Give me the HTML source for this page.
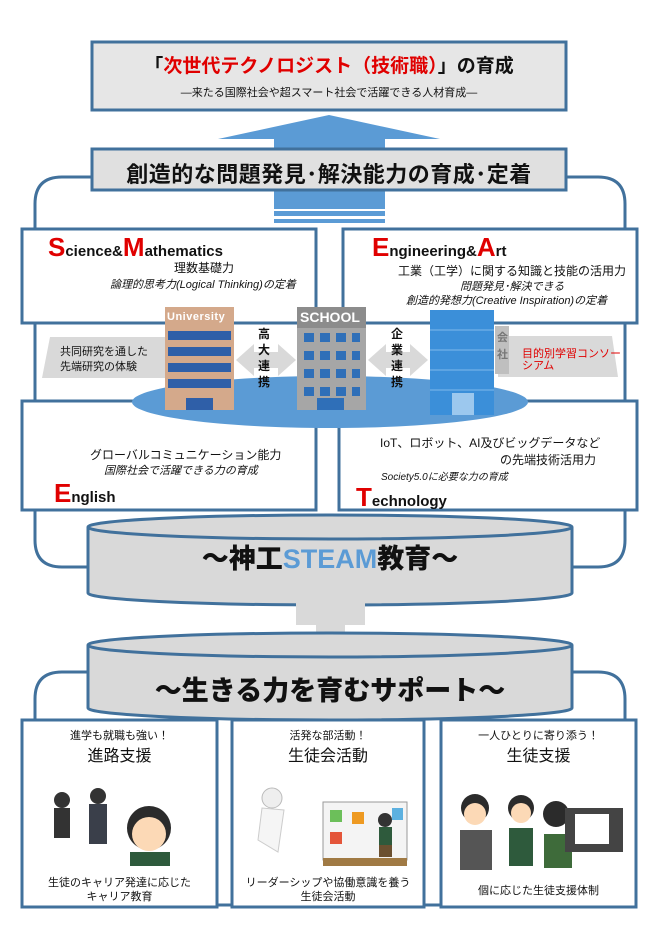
<!DOCTYPE html>
<html><head><meta charset="utf-8"><style>
body{margin:0;width:660px;height:934px;background:#fff;position:relative;overflow:hidden;font-family:"Liberation Sans","Noto Sans CJK JP",sans-serif;color:#111}
.a{position:absolute;white-space:nowrap}
svg{position:absolute;left:0;top:0}
.big{font-weight:bold;font-family:"Liberation Sans","Noto Sans CJK JP",sans-serif}
.cap{color:#e00000;font-size:26px;font-weight:900}
</style></head><body>
<svg width="660" height="934">
<path d="M92 177 H62 Q35 177 35 204 V540 Q35 567 62 567 H100" fill="none" stroke="#41719c" stroke-width="3"/>
<path d="M566 177 H598 Q625 177 625 204 V540 Q625 567 598 567 H560" fill="none" stroke="#41719c" stroke-width="3"/>
<path d="M100 672 H62 Q35 672 35 699 V905 H625 V699 Q625 672 598 672 H560" fill="none" stroke="#41719c" stroke-width="3"/>
<rect x="92" y="42" width="474" height="68" fill="#e6e6e6" stroke="#41719c" stroke-width="3"/>
<polygon points="329,115 440,139 218,139" fill="#5b9bd5"/>
<rect x="274" y="139" width="111" height="70" fill="#5b9bd5"/>
<rect x="274" y="211" width="111" height="5" fill="#5b9bd5"/>
<rect x="274" y="219" width="111" height="4" fill="#5b9bd5"/>
<rect x="92" y="149" width="474" height="41" fill="#e0e0e0" stroke="#41719c" stroke-width="3"/>
<rect x="22" y="229" width="294" height="94" fill="#fff" stroke="#41719c" stroke-width="3"/>
<rect x="343" y="229" width="294" height="94" fill="#fff" stroke="#41719c" stroke-width="3"/>
<rect x="22" y="401" width="294" height="109" fill="#fff" stroke="#41719c" stroke-width="3"/>
<rect x="339" y="401" width="298" height="109" fill="#fff" stroke="#41719c" stroke-width="3"/>
<polygon points="50,337 170,337 170,378 42,378" fill="#d9d9d9"/>
<polygon points="498,336 612,336 618,377 498,377" fill="#d9d9d9"/>
<polygon points="236,360 254,344 254,352 278,352 278,344 296,360 278,376 278,368 254,368 254,376" fill="#d9d9d9"/>
<polygon points="368,360 386,344 386,352 410,352 410,344 428,360 410,376 410,368 386,368 386,376" fill="#d9d9d9"/>
<ellipse cx="330" cy="402" rx="198" ry="26" fill="#5b9bd5"/>
<rect x="165" y="307" width="69" height="103" fill="#d4a98b"/>
<g fill="#2f5fa8"><rect x="168" y="331" width="63" height="9"/><rect x="168" y="347" width="63" height="9"/><rect x="168" y="363" width="63" height="9"/><rect x="168" y="379" width="63" height="9"/><rect x="186" y="398" width="27" height="12"/></g>
<rect x="297" y="307" width="69" height="103" fill="#a6a6a6"/>
<rect x="297" y="307" width="69" height="21" fill="#8c8c8c"/>
<g fill="#2f6fb8"><rect x="304" y="333" width="10" height="9"/><rect x="320" y="333" width="10" height="9"/><rect x="336" y="333" width="10" height="9"/><rect x="352" y="333" width="8" height="9"/>
<rect x="304" y="351" width="10" height="9"/><rect x="320" y="351" width="10" height="9"/><rect x="336" y="351" width="10" height="9"/><rect x="352" y="351" width="8" height="9"/>
<rect x="304" y="369" width="10" height="9"/><rect x="320" y="369" width="10" height="9"/><rect x="336" y="369" width="10" height="9"/><rect x="352" y="369" width="8" height="9"/>
<rect x="304" y="387" width="10" height="9"/><rect x="320" y="387" width="10" height="9"/><rect x="336" y="387" width="10" height="9"/><rect x="352" y="387" width="8" height="9"/><rect x="317" y="398" width="27" height="12"/></g>
<rect x="430" y="310" width="64" height="105" fill="#3b8fd9"/>
<g stroke="#7fb8ea" stroke-width="1"><line x1="430" y1="330" x2="494" y2="330"/><line x1="430" y1="350" x2="494" y2="350"/><line x1="430" y1="370" x2="494" y2="370"/><line x1="430" y1="390" x2="494" y2="390"/></g>
<rect x="495" y="326" width="14" height="48" fill="#bfbfbf"/>
<rect x="452" y="393" width="22" height="22" fill="#9cc8ee"/>
<path d="M88 527 V593 A242 12 0 0 0 572 593 V527" fill="#d9d9d9" stroke="#41719c" stroke-width="3"/>
<ellipse cx="330" cy="527" rx="242" ry="12" fill="#d9d9d9" stroke="#41719c" stroke-width="3"/>
<path d="M88 645 V708 A242 12 0 0 0 572 708 V645" fill="#d9d9d9" stroke="#41719c" stroke-width="3"/>
<rect x="316" y="588" width="29" height="62" fill="#d9d9d9"/>
<rect x="296" y="598" width="69" height="27" fill="#d9d9d9"/>
<ellipse cx="330" cy="645" rx="242" ry="12" fill="#d9d9d9" stroke="#41719c" stroke-width="3"/>
<rect x="22" y="720" width="195" height="187" fill="#fff" stroke="#41719c" stroke-width="3"/>
<rect x="232" y="720" width="192" height="187" fill="#fff" stroke="#41719c" stroke-width="3"/>
<rect x="441" y="720" width="195" height="187" fill="#fff" stroke="#41719c" stroke-width="3"/>
<g>
<circle cx="62" cy="800" r="8" fill="#333"/><rect x="54" y="808" width="16" height="30" fill="#333"/>
<circle cx="98" cy="796" r="8" fill="#333"/><rect x="89" y="804" width="18" height="40" fill="#3a3f4a"/>
<circle cx="149" cy="828" r="22" fill="#2b2b2b"/><circle cx="149" cy="834" r="17" fill="#fcd9b6"/><rect x="130" y="852" width="40" height="14" fill="#2e5a3c"/>
</g>
<g>
<rect x="323" y="802" width="84" height="58" fill="#f4f4f4" stroke="#999"/>
<rect x="330" y="810" width="12" height="12" fill="#6cbf5a"/><rect x="352" y="812" width="12" height="12" fill="#ee9a22"/><rect x="330" y="832" width="12" height="12" fill="#e4553a"/><rect x="392" y="808" width="11" height="12" fill="#5db1e0"/>
<rect x="323" y="858" width="84" height="8" fill="#a07a44"/>
<circle cx="385" cy="820" r="7" fill="#333"/><rect x="379" y="827" width="13" height="18" fill="#2e5a3c"/><rect x="379" y="845" width="13" height="12" fill="#6b5030"/>
<circle cx="272" cy="798" r="10" fill="#eee" stroke="#bbb"/><path d="M262 808 L258 840 L278 852 L284 810Z" fill="#f5f5f5" stroke="#ccc"/>
</g>
<g>
<circle cx="475" cy="808" r="14" fill="#2b2b2b"/><circle cx="475" cy="814" r="11" fill="#fcd9b6"/><rect x="460" y="830" width="32" height="40" fill="#555"/>
<circle cx="521" cy="808" r="13" fill="#2b2b2b"/><circle cx="521" cy="813" r="10" fill="#fcd9b6"/><rect x="509" y="828" width="24" height="38" fill="#2e5a3c"/>
<circle cx="556" cy="814" r="13" fill="#2b2b2b"/><rect x="544" y="834" width="28" height="34" fill="#3e6b3a"/>
<rect x="565" y="808" width="58" height="44" fill="#444"/><rect x="575" y="814" width="34" height="30" fill="#fff"/>
</g>
</svg>

<div class="a big" style="left:92px;top:51px;width:474px;text-align:center;font-size:19px"><span>「</span><span style="color:#e00000">次世代テクノロジスト（技術職）</span><span>」の育成</span></div>
<div class="a" style="left:92px;top:84px;width:474px;text-align:center;font-size:11px">—来たる国際社会や超スマート社会で活躍できる人材育成—</div>
<div class="a big" style="left:92px;top:157px;width:474px;text-align:center;font-size:22px;letter-spacing:0.5px">創造的な問題発見･解決能力の育成･定着</div>

<div class="a big" style="left:48px;top:232px;font-size:15px;font-weight:900"><span class="cap">S</span>cience&amp;<span class="cap">M</span>athematics</div>
<div class="a" style="left:174px;top:259px;font-size:12px">理数基礎力</div>
<div class="a" style="left:110px;top:276px;font-size:11px;font-style:italic">論理的思考力(Logical Thinking)の定着</div>

<div class="a big" style="left:372px;top:232px;font-size:15px;font-weight:900"><span class="cap">E</span>ngineering&amp;<span class="cap">A</span>rt</div>
<div class="a" style="left:398px;top:262px;font-size:12px">工業（工学）に関する知識と技能の活用力</div>
<div class="a" style="left:460px;top:278px;font-size:11px;font-style:italic">問題発見･解決できる</div>
<div class="a" style="left:406px;top:292px;font-size:11px;font-style:italic">創造的発想力(Creative Inspiration)の定着</div>

<div class="a" style="left:60px;top:345px;font-size:11px;line-height:15px">共同研究を通した<br>先端研究の体験</div>
<div class="a big" style="left:167px;top:311px;font-size:11px;color:#fff;letter-spacing:0.5px">University</div>
<div class="a big" style="left:300px;top:309px;font-size:14px;color:#fff">SCHOOL</div>
<div class="a big" style="left:258px;top:326px;font-size:12px;line-height:16px;width:14px">高<br>大<br>連<br>携</div>
<div class="a big" style="left:391px;top:326px;font-size:12px;line-height:16px;width:14px">企<br>業<br>連<br>携</div>
<div class="a big" style="left:497px;top:330px;font-size:11px;line-height:17px;color:#777">会<br>社</div>
<div class="a" style="left:522px;top:348px;font-size:11px;line-height:12px;color:#e00000">目的別学習コンソー<br>シアム</div>

<div class="a" style="left:90px;top:446px;font-size:12px">グローバルコミュニケーション能力</div>
<div class="a" style="left:104px;top:462px;font-size:11px;font-style:italic">国際社会で活躍できる力の育成</div>
<div class="a big" style="left:54px;top:478px;font-size:15px;font-weight:900"><span class="cap">E</span>nglish</div>

<div class="a" style="left:380px;top:434px;font-size:12px">IoT、ロボット、AI及びビッグデータなど</div>
<div class="a" style="left:500px;top:451px;font-size:12px">の先端技術活用力</div>
<div class="a" style="left:381px;top:468px;font-size:10px;font-style:italic">Society5.0に必要な力の育成</div>
<div class="a big" style="left:356px;top:482px;font-size:15px;font-weight:900"><span class="cap">T</span>echnology</div>

<div class="a big" style="left:88px;top:537px;width:484px;text-align:center;font-size:27px;font-weight:900">〜神工<span style="color:#5b9bd5">STEAM</span>教育〜</div>
<div class="a big" style="left:88px;top:669px;width:484px;text-align:center;font-size:27px;font-weight:900">〜生きる力を育むサポート〜</div>

<div class="a" style="left:22px;top:727px;width:195px;text-align:center;font-size:11px">進学も就職も強い！</div>
<div class="a" style="left:22px;top:742px;width:195px;text-align:center;font-size:16px">進路支援</div>
<div class="a" style="left:22px;top:876px;width:195px;text-align:center;font-size:11px;line-height:14px">生徒のキャリア発達に応じた<br>キャリア教育</div>
<div class="a" style="left:232px;top:727px;width:192px;text-align:center;font-size:11px">活発な部活動！</div>
<div class="a" style="left:232px;top:742px;width:192px;text-align:center;font-size:16px">生徒会活動</div>
<div class="a" style="left:232px;top:876px;width:192px;text-align:center;font-size:11px;line-height:14px">リーダーシップや協働意識を養う<br>生徒会活動</div>
<div class="a" style="left:441px;top:727px;width:195px;text-align:center;font-size:11px">一人ひとりに寄り添う！</div>
<div class="a" style="left:441px;top:742px;width:195px;text-align:center;font-size:16px">生徒支援</div>
<div class="a" style="left:441px;top:882px;width:195px;text-align:center;font-size:11px">個に応じた生徒支援体制</div>
</body></html>
